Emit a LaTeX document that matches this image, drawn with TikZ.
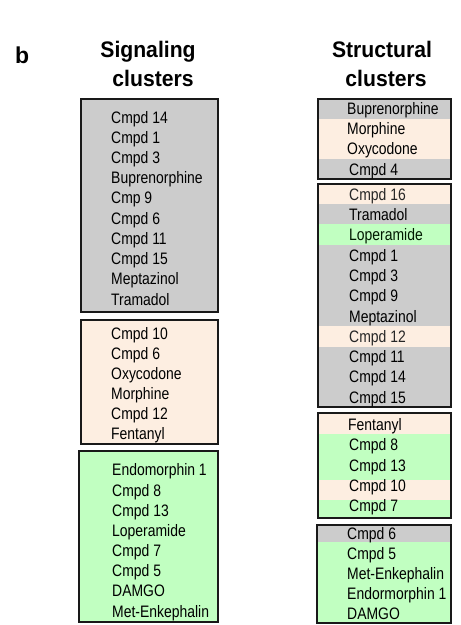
\documentclass[tikz,border=0pt]{standalone}
\usepackage{fontspec}
\setmainfont{Liberation Sans}
\newfontfamily\cmpdfont[FakeStretch=0.84]{Liberation Sans}
\newfontfamily\headfont[FakeStretch=0.94]{Liberation Sans}
\usepackage{tikz}

\definecolor{clgray}{RGB}{204,204,204}
\definecolor{clpeach}{RGB}{253,238,225}
\definecolor{clgreen}{RGB}{193,255,193}

\tikzset{
    cmpd/.style={anchor=west, inner sep=0pt, text height=12pt, text depth=0pt,
        font=\cmpdfont\fontsize{16.6}{18}\selectfont},
    heading/.style={anchor=base, inner sep=0pt, font=\headfont\bfseries\fontsize{22.5}{24}\selectfont},
    cluster/.style={draw=black!90, line width=1.5pt}
}

\begin{document}
\begin{tikzpicture}[x=1pt, y=-1pt]
        \useasboundingbox (0,0) rectangle (461,625);

        % titles
        \node[anchor=base west, inner sep=0pt, font=\bfseries\fontsize{23}{26}\selectfont] (panel) at (15,63){b};
        \node[heading] (sigtop) at (148,57){Signaling};
        \node[heading] (sigbot) at (153,86){clusters};
        \node[heading] (strtop) at (382,57){Structural};
        \node[heading] (strbot) at (386,86){clusters};

        % signaling boxes
        \filldraw[cluster, fill=clgray] (81,99) rectangle (218,312);
        \filldraw[cluster, fill=clpeach] (81,320) rectangle (218,444);
        \filldraw[cluster, fill=clgreen] (79,451) rectangle (218,622);

        % signaling names
        \node[cmpd] (s1a) at (111,117){Cmpd 14};
        \node[cmpd] (s1b) at (111,137){Cmpd 1};
        \node[cmpd] (s1c) at (111,157){Cmpd 3};
        \node[cmpd] (s1d) at (111,177){Buprenorphine};
        \node[cmpd] (s1e) at (111,197){Cmp 9};
        \node[cmpd] (s1f) at (111,218){Cmpd 6};
        \node[cmpd] (s1g) at (111,238){Cmpd 11};
        \node[cmpd] (s1h) at (111,258){Cmpd 15};
        \node[cmpd] (s1i) at (111,278){Meptazinol};
        \node[cmpd] (s1j) at (111,299){Tramadol};

        \node[cmpd] (s2a) at (111,333){Cmpd 10};
        \node[cmpd] (s2b) at (111,353){Cmpd 6};
        \node[cmpd] (s2c) at (111,373){Oxycodone};
        \node[cmpd] (s2d) at (111,393){Morphine};
        \node[cmpd] (s2e) at (111,413){Cmpd 12};
        \node[cmpd] (s2f) at (111,433){Fentanyl};

        \node[cmpd] (s3a) at (112,469){Endomorphin 1};
        \node[cmpd] (s3b) at (112,490){Cmpd 8};
        \node[cmpd] (s3c) at (112,510){Cmpd 13};
        \node[cmpd] (s3d) at (112,530){Loperamide};
        \node[cmpd] (s3e) at (112,550){Cmpd 7};
        \node[cmpd] (s3f) at (112,570){Cmpd 5};
        \node[cmpd] (s3g) at (112,590){DAMGO};
        \node[cmpd] (s3h) at (112,611){Met-Enkephalin};

        % structural bands
        \fill[clgray] (318,99) rectangle (451,119);
        \fill[clpeach] (318,119) rectangle (451,159);
        \fill[clgray] (318,159) rectangle (451,179);

        \fill[clpeach] (318,184) rectangle (451,204);
        \fill[clgray] (318,204) rectangle (451,224);
        \fill[clgreen] (318,224) rectangle (451,245);
        \fill[clgray] (318,245) rectangle (451,326);
        \fill[clpeach] (318,326) rectangle (451,347);
        \fill[clgray] (318,347) rectangle (451,407);

        \fill[clpeach] (318,413) rectangle (451,434);
        \fill[clgreen] (318,434) rectangle (451,480);
        \fill[clpeach] (318,480) rectangle (451,500);
        \fill[clgreen] (318,500) rectangle (451,518);

        \fill[clgray] (317,525) rectangle (451,542);
        \fill[clgreen] (317,542) rectangle (451,623);

        % structural boxes
        \draw[cluster] (318,99) rectangle (451,179);
        \draw[cluster] (318,184) rectangle (451,407);
        \draw[cluster] (318,413) rectangle (451,518);
        \draw[cluster] (317,525) rectangle (451,623);

        % structural names
        \node[cmpd] (t1a) at (347,108){Buprenorphine};
        \node[cmpd] (t1b) at (347,128){Morphine};
        \node[cmpd] (t1c) at (347,148){Oxycodone};
        \node[cmpd] (t1d) at (349,169){Cmpd 4};

        \node[cmpd, text=black!85] (t2a) at (349,194){Cmpd 16};
        \node[cmpd] (t2b) at (349,214){Tramadol};
        \node[cmpd, text=black!90!green] (t2c) at (349,234){Loperamide};
        \node[cmpd] (t2d) at (349,255){Cmpd 1};
        \node[cmpd] (t2e) at (349,275){Cmpd 3};
        \node[cmpd] (t2f) at (349,295){Cmpd 9};
        \node[cmpd] (t2g) at (349,316){Meptazinol};
        \node[cmpd, text=black!85] (t2h) at (349,336){Cmpd 12};
        \node[cmpd] (t2i) at (349,356){Cmpd 11};
        \node[cmpd] (t2j) at (349,376){Cmpd 14};
        \node[cmpd] (t2k) at (349,397){Cmpd 15};

        \node[cmpd] (t3a) at (348,424){Fentanyl};
        \node[cmpd] (t3b) at (349,444){Cmpd 8};
        \node[cmpd] (t3c) at (349,465){Cmpd 13};
        \node[cmpd] (t3d) at (349,485){Cmpd 10};
        \node[cmpd] (t3e) at (349,505){Cmpd 7};

        \node[cmpd] (t4a) at (347,533){Cmpd 6};
        \node[cmpd] (t4b) at (347,553){Cmpd 5};
        \node[cmpd] (t4c) at (347,573){Met-Enkephalin};
        \node[cmpd] (t4d) at (347,593){Endormorphin 1};
        \node[cmpd] (t4e) at (347,613){DAMGO};
    \end{tikzpicture}
\end{document}
